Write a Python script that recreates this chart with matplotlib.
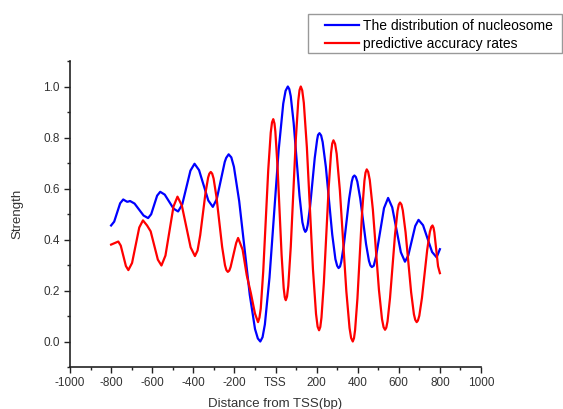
import matplotlib
matplotlib.use("Agg")
import matplotlib.pyplot as plt
from matplotlib.ticker import MultipleLocator
from matplotlib.patches import Rectangle

plt.rcParams['font.family'] = ['Liberation Sans', 'DejaVu Sans']

# Distance from TSS (bp) and strength values
blue_x = [-800, -785, -770.5, -756, -741, -731, -722, -715, -708, -686, -664, -642,
          -620, -605, -590.5, -576, -561, -539, -517.5, -496, -474, -454, -434, -414,
          -394, -372, -349.5, -327, -305, -286, -266.5, -247, -240, -228, -215, -202.3,
          -176.7, -151, -125.3, -99.7, -86, -74, -63, -51.7, -29.3, -7, 15.3, 37.7, 49,
          60, 67, 74.2, 88.3, 102.5, 116.7, 130.8, 139, 145, 151, 156.5, 168, 179.5, 191,
          202.5, 207, 214, 222, 229.5, 245, 260.5, 276, 291.5, 300, 307, 314, 319.8,
          332.7, 345.5, 358.3, 371.2, 377, 384, 391, 398.2, 412.3, 426.5, 440.7, 454.8,
          462, 469, 478, 489, 508.5, 528, 548, 568, 589, 610, 630, 646, 663, 680, 696,
          718, 740, 762, 784, 792, 800]
blue_y = [0.455, 0.470, 0.506, 0.542, 0.557, 0.552, 0.548, 0.549, 0.551, 0.541, 0.5175,
          0.494, 0.484, 0.499, 0.5355, 0.572, 0.587, 0.576, 0.5485, 0.521, 0.510, 0.537,
          0.6035, 0.670, 0.697, 0.672, 0.6125, 0.553, 0.528, 0.558, 0.631, 0.704, 0.720,
          0.734, 0.722, 0.685, 0.5505, 0.367, 0.1835, 0.049, 0.012, 0.0, 0.017, 0.067,
          0.25, 0.5, 0.75, 0.933, 0.983, 1.0, 0.990, 0.962, 0.8575, 0.715, 0.5725, 0.468,
          0.440, 0.430, 0.437, 0.456, 0.527, 0.6235, 0.720, 0.791, 0.810, 0.817, 0.808,
          0.782, 0.685, 0.5525, 0.420, 0.323, 0.297, 0.288, 0.294, 0.312, 0.379, 0.4695,
          0.560, 0.627, 0.645, 0.651, 0.645, 0.627, 0.561, 0.4715, 0.382, 0.316, 0.298,
          0.292, 0.297, 0.332, 0.4275, 0.523, 0.563, 0.526, 0.438, 0.350, 0.313, 0.337,
          0.395, 0.453, 0.477, 0.456, 0.4035, 0.351, 0.330, 0.346, 0.362]

red_x = [-800, -782, -765, -753, -740.5, -728, -716, -698, -680.5, -663, -645, -625,
         -607.5, -590, -572.5, -555, -535.5, -516, -496.5, -477, -456, -434.5, -413,
         -392, -379.2, -366.3, -353.5, -340.7, -327.8, -322, -315, -308, -301.2, -287.3,
         -273.5, -259.7, -245.8, -239, -232, -225, -218.5, -205, -191.5, -182, -160,
         -140, -120, -100, -85, -78, -71.8, -59.7, -47.5, -35.3, -23.2, -17, -11, -5,
         -0.8, 9.3, 19.5, 29.7, 39.8, 45, 50, 56, 62.2, 74.3, 86.5, 98.7, 110.8, 117,
         123, 130, 137.8, 152.7, 167.5, 182.3, 197.2, 205, 212, 218, 223.7, 235.3, 247,
         258.7, 270.3, 276, 282, 290, 297.7, 313.3, 329, 344.7, 360.3, 368, 376, 382,
         387.3, 398.7, 410, 421.3, 432.7, 438, 444, 451, 458.8, 473.7, 488.5, 503.3,
         518.2, 526, 533, 539, 545.2, 557.3, 569.5, 581.7, 593.8, 600, 606, 613, 619.5,
         633, 646.5, 660, 673.5, 680, 687, 693, 699.8, 712.7, 725.5, 738.3, 751.2, 758,
         764, 769, 773, 782, 791, 800]
red_y = [0.380, 0.386, 0.392, 0.376, 0.336, 0.296, 0.280, 0.308, 0.3775, 0.447, 0.475,
         0.455, 0.432, 0.3765, 0.321, 0.298, 0.337, 0.433, 0.529, 0.568, 0.534, 0.4515,
         0.369, 0.335, 0.357, 0.4175, 0.500, 0.5825, 0.643, 0.658, 0.665, 0.658, 0.639,
         0.567, 0.469, 0.371, 0.299, 0.280, 0.273, 0.278, 0.292, 0.339, 0.386, 0.406,
         0.36, 0.26, 0.19, 0.11, 0.076, 0.094, 0.129, 0.275, 0.474, 0.673, 0.819, 0.859,
         0.872, 0.855, 0.824, 0.6945, 0.517, 0.3395, 0.210, 0.174, 0.162, 0.176, 0.218,
         0.3715, 0.581, 0.7905, 0.944, 0.986, 1.0, 0.985, 0.936, 0.761, 0.522, 0.283,
         0.108, 0.058, 0.044, 0.057, 0.094, 0.230, 0.4165, 0.603, 0.739, 0.776, 0.789,
         0.775, 0.736, 0.592, 0.3945, 0.197, 0.053, 0.014, 0.0, 0.013, 0.045, 0.169,
         0.3375, 0.506, 0.630, 0.662, 0.675, 0.665, 0.633, 0.518, 0.3605, 0.203, 0.088,
         0.056, 0.046, 0.054, 0.079, 0.171, 0.2955, 0.420, 0.512, 0.537, 0.545, 0.537,
         0.514, 0.428, 0.3105, 0.193, 0.107, 0.085, 0.076, 0.082, 0.101, 0.171, 0.2655,
         0.360, 0.430, 0.449, 0.455, 0.446, 0.428, 0.3615, 0.295, 0.268]

xtick_values = [-1000, -800, -600, -400, -200, 0, 200, 400, 600, 800, 1000]
xtick_labels = ['-1000', '-800', '-600', '-400', '-200', 'TSS', '200', '400', '600', '800', '1000']
ytick_values = [0.0, 0.2, 0.4, 0.6, 0.8, 1.0]
ytick_labels = ['0.0', '0.2', '0.4', '0.6', '0.8', '1.0']
series_names = ['The distribution of nucleosome', 'predictive accuracy rates']

W, H = 563, 409
fig = plt.figure(figsize=(W / 100, H / 100), dpi=100)
ax = fig.add_axes([70 / W, 1 - 367 / H, 411 / W, 306 / H])

l1, = ax.plot(blue_x, blue_y, color='#0000FF', lw=1.6, label=series_names[0])
l2, = ax.plot(red_x, red_y, color='#FF0000', lw=1.6, label=series_names[1])

ax.set_xlim(-1000, 1000)
ax.set_ylim(-0.1, 1.1)
ax.set_xticks(xtick_values)
ax.set_xticklabels(xtick_labels)
ax.set_yticks(ytick_values)
ax.set_yticklabels(ytick_labels)
ax.xaxis.set_minor_locator(MultipleLocator(100))
ax.yaxis.set_minor_locator(MultipleLocator(0.1))
ax.spines['top'].set_visible(False)
ax.spines['right'].set_visible(False)
for s in ('left', 'bottom'):
    ax.spines[s].set_linewidth(1.2)
    ax.spines[s].set_color('#222222')
ax.tick_params(which='major', direction='out', length=4, width=1, colors='#222222',
               labelsize=8.5, labelcolor='#333333')
ax.tick_params(which='minor', direction='out', length=2.5, width=1, colors='#222222')

ax.set_xlabel('Distance from TSS(bp)', fontsize=9.5, color='#333333', labelpad=6)
ax.set_ylabel('Strength', fontsize=9.5, color='#333333', labelpad=14)

# legend box
fig.patches.append(Rectangle((308 / W, 1 - 53 / H), 254 / W, 39 / H,
                             transform=fig.transFigure, facecolor='white',
                             edgecolor='#999999', linewidth=1.0, zorder=1))
leg = fig.legend(handles=[l1, l2], loc='upper left',
                 bbox_to_anchor=(325 / W, 1 - 19 / H),
                 frameon=False, fontsize=10,
                 handlelength=2.45, handletextpad=0.3, borderpad=0,
                 labelspacing=0.3, borderaxespad=0)
leg.set_zorder(3)

fig.savefig('out.png', dpi=100)
